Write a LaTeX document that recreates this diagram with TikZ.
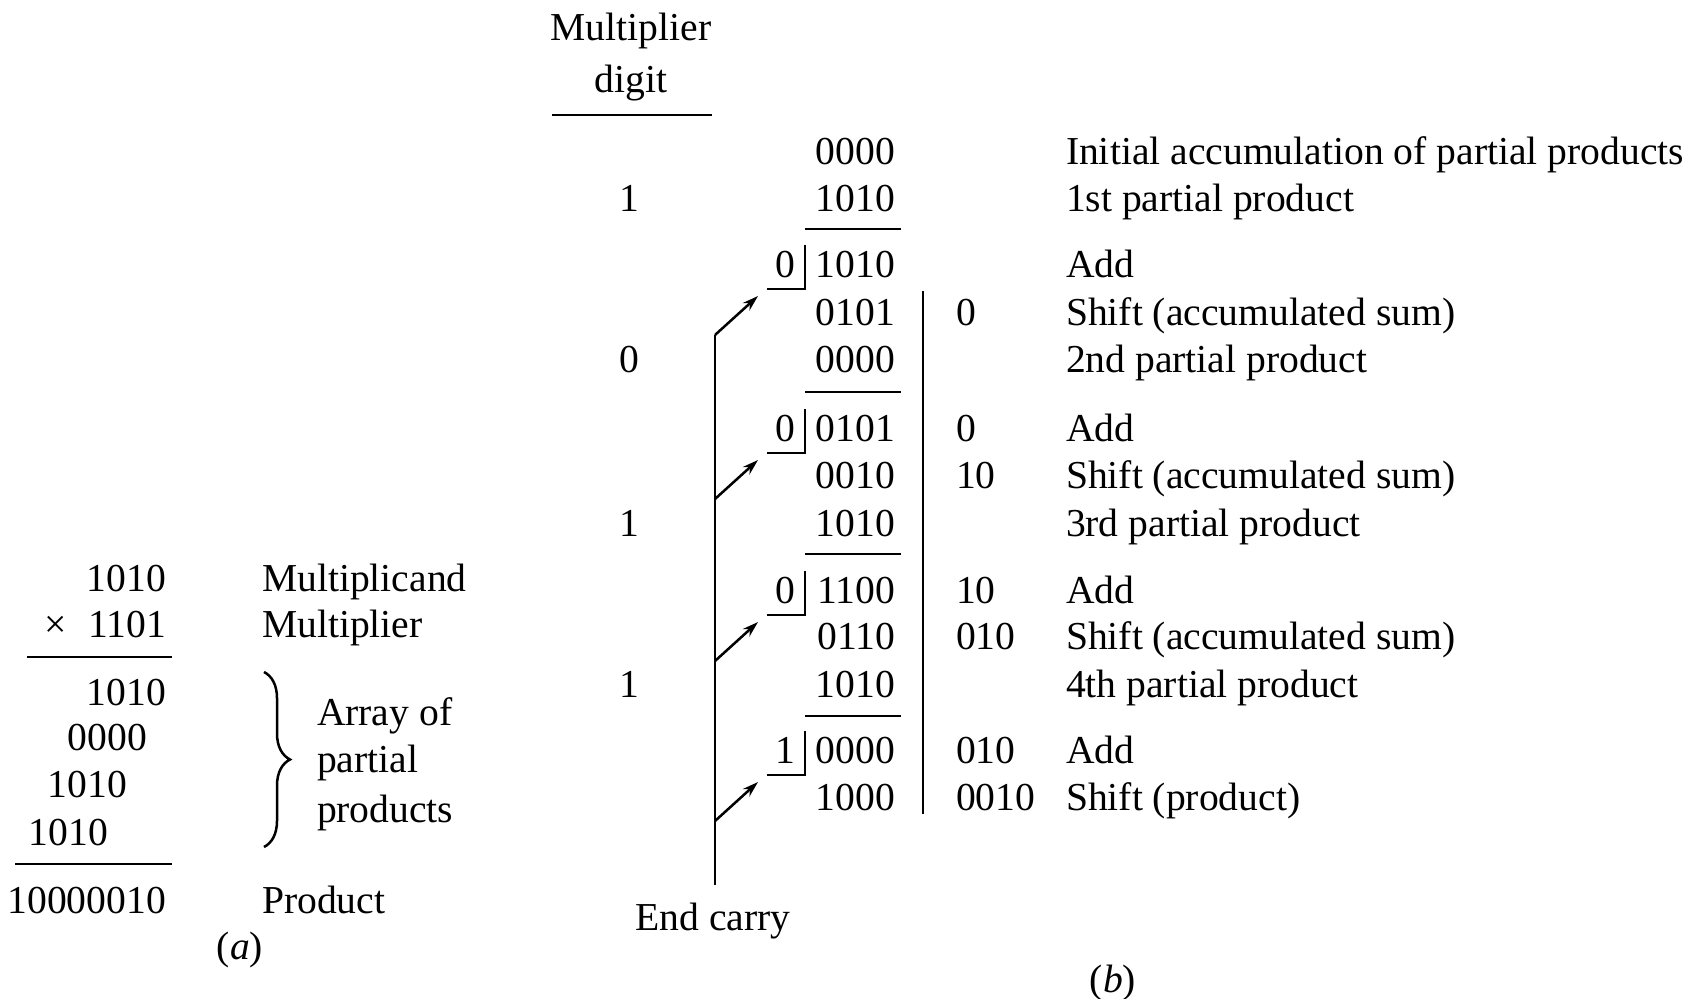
\documentclass[tikz,border=0pt]{standalone}
\usepackage{fontspec}
\setmainfont{Liberation Serif}
\usetikzlibrary{arrows.meta,decorations.pathreplacing}
\begin{document}
\begin{tikzpicture}[x=0.5pt,y=-0.5pt,
  every node/.style={inner sep=0pt,outer sep=0pt,font=\fontsize{19.8}{23}\selectfont},
  num/.style={anchor=base east},
  lbl/.style={anchor=base west},
  ctr/.style={anchor=base},
  rule/.style={line width=1.25pt},
  carryarrow/.style={line width=1.25pt,-{Stealth[length=8pt,width=5pt]}}]
\useasboundingbox (0,0) rectangle (1694,998);

% ---------- (a) paper-and-pencil multiplication ----------
\node[num] (mcand) at (166,591) {1010};
\node[num] (mplier) at (166,637) {×\hspace{0.55em}1101};
\draw[rule] (27,657) -- (172,657);
\node[num] (pp1) at (166,705) {1010};
\node[num] (pp2) at (147,750) {0000};
\node[num] (pp3) at (127,797) {1010};
\node[num] (pp4) at (108,845) {1010};
\draw[rule] (15,864) -- (172,864);
\node[num] (prod) at (166,913) {10000010};

\node[lbl] (lmcand) at (262,591) {Multiplicand};
\node[lbl] (lmplier) at (262,637) {Multiplier};
\node[lbl] (lprod) at (262,913) {Product};
\draw[line width=1.25pt,decorate,decoration={brace,amplitude=13pt}] (264,672) -- (264,847);
\node[lbl] (arr1) at (317,725) {Array of};
\node[lbl] (arr2) at (317,772) {partial};
\node[lbl] (arr3) at (317,822) {products};
\node (capa) at (240,950) {(\textit{a})};

% ---------- (b) hardware-style accumulation ----------
\node[ctr] (mdh1) at (631,40) {Multiplier};
\node[ctr] (mdh2) at (631,92) {digit};
\draw[rule] (552,115) -- (712,115);

\node[ctr] (md1) at (629,211) {1};
\node[ctr] (md2) at (629,372) {0};
\node[ctr] (md3) at (629,536) {1};
\node[ctr] (md4) at (629,697) {1};

% accumulator column
\node[num] (r0)  at (895,164) {0000};
\node[num] (r1)  at (895,211) {1010};
\draw[rule] (805,229) -- (901,229);
\node[num] (r2)  at (895,277) {1010};
\node[num] (r3)  at (895,325) {0101};
\node[num] (r4)  at (895,372) {0000};
\draw[rule] (805,392) -- (901,392);
\node[num] (r5)  at (895,441) {0101};
\node[num] (r6)  at (895,488) {0010};
\node[num] (r7)  at (895,536) {1010};
\draw[rule] (805,554) -- (901,554);
\node[num] (r8)  at (895,603) {1100};
\node[num] (r9)  at (895,649) {0110};
\node[num] (r10) at (895,697) {1010};
\draw[rule] (805,716) -- (901,716);
\node[num] (r11) at (895,763) {0000};
\node[num] (r12) at (895,810) {1000};

% carry cells
\node[ctr] (c1) at (785,277) {0};
\node[ctr] (c2) at (785,441) {0};
\node[ctr] (c3) at (785,603) {0};
\node[ctr] (c4) at (785,763) {1};
\foreach \y in {277,441,603,763}{
  \draw[rule] (805,\y-32) -- (805,\y+12) -- (767,\y+12);
}

% end-carry line and arrows
\coordinate (t1) at (715,335);
\coordinate (t2) at (715,499);
\coordinate (t3) at (715,661);
\coordinate (t4) at (715,821);
\coordinate (tb) at (715,885);
\coordinate (h1) at (758,296);
\coordinate (h2) at (758,460);
\coordinate (h3) at (758,622);
\coordinate (h4) at (758,782);
\draw[rule] (t1) -- (tb);
\draw[carryarrow] (t1) -- (h1);
\draw[carryarrow] (t2) -- (h2);
\draw[carryarrow] (t3) -- (h3);
\draw[carryarrow] (t4) -- (h4);
\node[ctr] (endc) at (713,930) {End carry};

% separator and shifted-out bits
\draw[rule] (923,291) -- (923,814);
\node[lbl] (s3)  at (956,325) {0};
\node[lbl] (s5)  at (956,441) {0};
\node[lbl] (s6)  at (956,488) {10};
\node[lbl] (s8)  at (956,603) {10};
\node[lbl] (s9)  at (956,649) {010};
\node[lbl] (s11) at (956,763) {010};
\node[lbl] (s12) at (956,810) {0010};

% descriptions
\node[lbl] (d0)  at (1066,164) {Initial accumulation of partial products};
\node[lbl] (d1)  at (1066,211) {1st partial product};
\node[lbl] (d2)  at (1066,277) {Add};
\node[lbl] (d3)  at (1066,325) {Shift (accumulated sum)};
\node[lbl] (d4)  at (1066,372) {2nd partial product};
\node[lbl] (d5)  at (1066,441) {Add};
\node[lbl] (d6)  at (1066,488) {Shift (accumulated sum)};
\node[lbl] (d7)  at (1066,536) {3rd partial product};
\node[lbl] (d8)  at (1066,603) {Add};
\node[lbl] (d9)  at (1066,649) {Shift (accumulated sum)};
\node[lbl] (d10) at (1066,697) {4th partial product};
\node[lbl] (d11) at (1066,763) {Add};
\node[lbl] (d12) at (1066,810) {Shift (product)};

\node (capb) at (1113,983) {(\textit{b})};
\end{tikzpicture}
\end{document}
